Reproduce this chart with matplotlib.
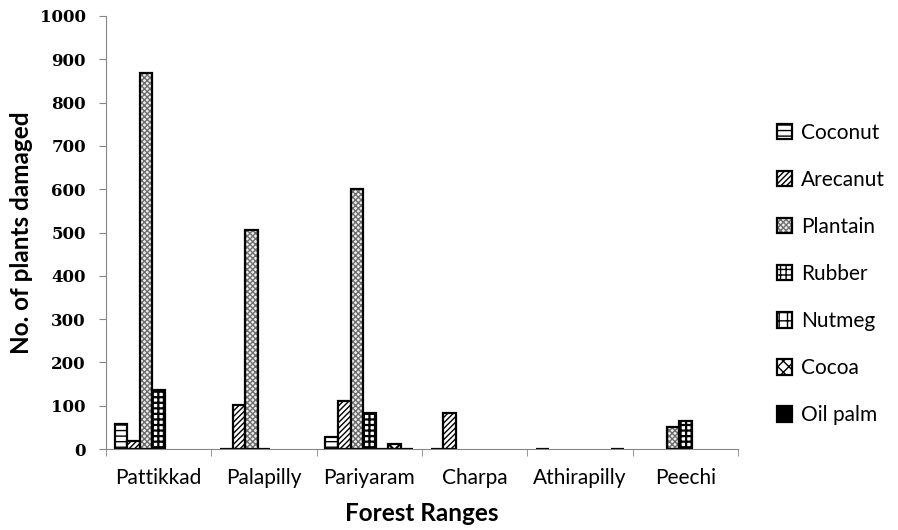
import matplotlib.pyplot as plt
import numpy as np

nan = np.nan

ranges = ['Pattikkad', 'Palapilly', 'Pariyaram', 'Charpa', 'Athirapilly', 'Peechi']
crops = ['Coconut', 'Arecanut', 'Plantain', 'Rubber', 'Nutmeg', 'Cocoa', 'Oil palm']

# plants damaged per crop, one value per forest range (nan = no entry)
coconut = [57, 0, 27, 0, 0, nan]
arecanut = [18, 101, 110, 84, nan, nan]
plantain = [868, 506, 600, nan, nan, 50]
rubber = [136, 0, 84, nan, nan, 64]
nutmeg = [nan, nan, 0, nan, nan, nan]
cocoa = [nan, nan, 11, nan, nan, nan]
oil_palm = [nan, nan, 0, nan, 0, nan]

series = [coconut, arecanut, plantain, rubber, nutmeg, cocoa, oil_palm]
hatches = ['---', '//////', 'xxxxxx', '+++', '++', 'xxx', '']
hatch_cols = ['black', 'black', '#6e6e6e', 'black', 'black', 'black', 'black']
hatch_lw = [1.0, 1.0, 1.0, 1.6, 2.2, 1.6, 1.0]
faces = ['white', 'white', '#f0f0f0', 'white', 'white', 'white', 'black']

fig = plt.figure(figsize=(8.98, 5.30), dpi=100)
ax = fig.add_axes([106 / 898, 1 - 449 / 530, (738 - 106) / 898, (449 - 16) / 530])

x = np.arange(len(ranges))
w = 0.119
handles = []
for i, vals in enumerate(series):
    pos = x - 3.5 * w + (i + 0.5) * w
    # hatched fill first, black outline on top
    with plt.rc_context({'hatch.linewidth': hatch_lw[i]}):
        h1 = ax.bar(pos, vals, width=w, color=faces[i], edgecolor=hatch_cols[i],
                    linewidth=0, hatch=hatches[i])
    h2 = ax.bar(pos, vals, width=w, fill=False, edgecolor='black', linewidth=1.6)
    handles.append((h1, h2))

ax.set_xlim(-0.5, len(ranges) - 0.5)
ax.set_ylim(0, 1000)
ax.set_yticks(np.arange(0, 1001, 100))
ax.set_yticklabels([str(v) for v in range(0, 1001, 100)],
                   family='DejaVu Serif', fontweight='bold', fontsize=12)

ax.set_xticks(x)
ax.set_xticklabels(ranges, family='Lato', fontsize=15)
ax.set_xticks(np.arange(-0.5, len(ranges)), minor=True)
ax.tick_params(axis='x', which='major', length=0, pad=14)
ax.tick_params(axis='x', which='minor', length=5, color='#868686')
ax.tick_params(axis='y', length=5, color='#868686', pad=9.5)

for s in ['top', 'right']:
    ax.spines[s].set_visible(False)
for s in ['left', 'bottom']:
    ax.spines[s].set_color('#868686')

ax.set_ylabel('No. of plants damaged', family='Lato', fontweight='bold', fontsize=17.5, labelpad=5)
ax.set_xlabel('Forest Ranges', family='Lato', fontweight='bold', fontsize=17.5, labelpad=10)

leg = ax.legend(handles, crops, loc='center left', bbox_to_anchor=(1.045, 0.404),
                frameon=False, borderpad=0,
                prop={'family': 'Lato', 'size': 15}, handlelength=0.75, handleheight=0.75,
                handletextpad=0.4, labelspacing=1.3)

fig.savefig('out.png', dpi=100)
